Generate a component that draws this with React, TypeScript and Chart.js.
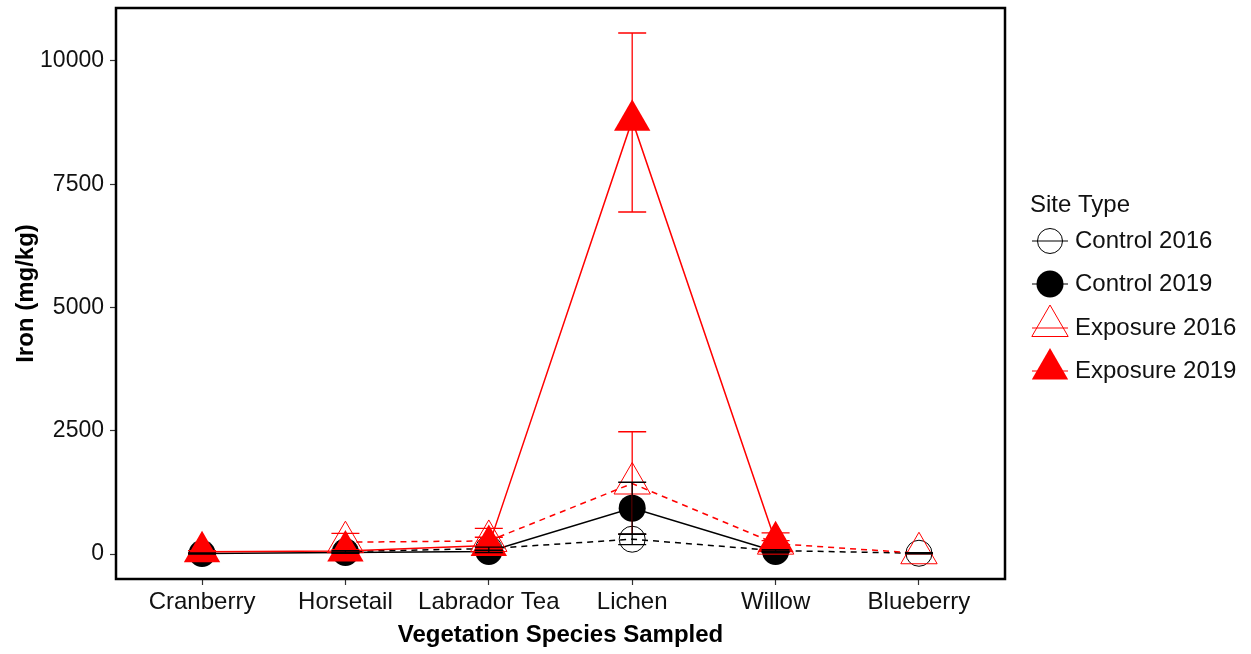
import React, { useEffect, useRef } from 'react';
import { Chart, registerables } from 'chart.js';

Chart.register(...registerables);

const FONT = '"Liberation Sans", Arial, Helvetica, sans-serif';

const categories = ['Cranberry', 'Horsetail', 'Labrador Tea', 'Lichen', 'Willow', 'Blueberry'];
const yTicks = [0, 2500, 5000, 7500, 10000];
const seriesLabels = ['Control 2016', 'Control 2019', 'Exposure 2016', 'Exposure 2019'];

const control2016 = [null, 50, 110, 300, 70, 15];
const control2016Low = [null, 30, 80, 190, 50, 5];
const control2016High = [null, 70, 140, 410, 90, 25];

const control2019 = [10, 30, 50, 930, 50, null];
const control2019Low = [0, 15, 30, 400, 35, null];
const control2019High = [20, 45, 70, 1455, 65, null];

const exposure2016 = [null, 240, 265, 1430, 210, 15];
const exposure2016Low = [null, 60, 10, 400, 150, 5];
const exposure2016High = [null, 420, 520, 2480, 270, 25];

const exposure2019 = [45, 60, 170, 8800, 250, null];
const exposure2019Low = [20, 30, 0, 6937, 80, null];
const exposure2019High = [70, 90, 340, 10568, 430, null];

const toPoints = (vals: (number | null)[]) => vals.map((v, i) => ({ x: i, y: v }));

const seriesStyle = [
  { color: '#000000', dash: [6, 5], shape: 'circle', filled: false, radius: 13 },
  { color: '#000000', dash: [], shape: 'circle', filled: true, radius: 13.5 },
  { color: '#ff0000', dash: [6, 5], shape: 'triangle', filled: false, radius: 21 },
  { color: '#ff0000', dash: [], shape: 'triangle', filled: true, radius: 21 },
];

const seriesValues = [control2016, control2019, exposure2016, exposure2019];
const seriesLow = [control2016Low, control2019Low, exposure2016Low, exposure2019Low];
const seriesHigh = [control2016High, control2019High, exposure2016High, exposure2019High];

function drawMarker(ctx: CanvasRenderingContext2D, shape: string, x: number, y: number, r: number, color: string, filled: boolean) {
  ctx.save();
  ctx.beginPath();
  if (shape === 'circle') {
    ctx.arc(x, y, r, 0, Math.PI * 2);
  } else {
    let rad = 0;
    const t = (2 * Math.PI) / 3;
    ctx.moveTo(x + Math.sin(rad) * r, y - Math.cos(rad) * r);
    rad += t;
    ctx.lineTo(x + Math.sin(rad) * r, y - Math.cos(rad) * r);
    rad += t;
    ctx.lineTo(x + Math.sin(rad) * r, y - Math.cos(rad) * r);
    ctx.closePath();
  }
  if (filled) {
    ctx.fillStyle = color;
    ctx.fill();
  } else {
    ctx.strokeStyle = color;
    ctx.lineWidth = 1;
    ctx.stroke();
  }
  ctx.restore();
}

const errorBarPlugin = {
  id: 'errorBars',
  afterDatasetsDraw(chart: any) {
    const ctx = chart.ctx;
    const xs = chart.scales.x;
    const ys = chart.scales.y;
    ctx.save();
    for (let s = seriesValues.length - 1; s >= 0; s--) {
      const color = seriesStyle[s].color;
      ctx.strokeStyle = color;
      ctx.lineWidth = 1.3;
      for (let i = 0; i < categories.length; i++) {
        const lo = seriesLow[s][i];
        const hi = seriesHigh[s][i];
        if (lo === null || hi === null || lo === undefined || hi === undefined) continue;
        const px = xs.getPixelForValue(i);
        const pLo = ys.getPixelForValue(lo);
        const pHi = ys.getPixelForValue(hi);
        ctx.beginPath();
        ctx.moveTo(px, pLo);
        ctx.lineTo(px, pHi);
        ctx.moveTo(px - 14, pLo);
        ctx.lineTo(px + 14, pLo);
        ctx.moveTo(px - 14, pHi);
        ctx.lineTo(px + 14, pHi);
        ctx.stroke();
      }
    }
    ctx.restore();
  },
};

const frameLegendPlugin = {
  id: 'frameLegend',
  afterDraw(chart: any) {
    const ctx = chart.ctx;
    const a = chart.chartArea;
    ctx.save();
    ctx.strokeStyle = '#000';
    ctx.lineWidth = 2.5;
    ctx.strokeRect(a.left, a.top, a.right - a.left, a.bottom - a.top);

    // legend
    const lx = a.right + 25;
    ctx.fillStyle = '#111';
    ctx.font = `24px ${FONT}`;
    ctx.textBaseline = 'middle';
    ctx.textAlign = 'left';
    ctx.fillText('Site Type', lx, 205);
    const rowY = [241, 284, 328, 371];
    seriesLabels.forEach((label, k) => {
      const st = seriesStyle[k];
      const cy = rowY[k];
      const cx = lx + 20;
      ctx.strokeStyle = st.color;
      ctx.lineWidth = 1.2;
      ctx.beginPath();
      ctx.moveTo(cx - 18, cy);
      ctx.lineTo(cx + 18, cy);
      ctx.stroke();
      const my = st.shape === 'triangle' ? cy - 2 : cy;
      drawMarker(ctx, st.shape, cx, my, st.shape === 'triangle' ? 21 : (st.filled ? 13.5 : 12.5), st.color, st.filled);
      ctx.fillStyle = '#111';
      ctx.fillText(label, lx + 45, cy);
    });
    ctx.restore();
  },
};

export default function App() {
  const ref = useRef<HTMLCanvasElement>(null);

  useEffect(() => {
    document.body.style.margin = '0';
    const canvas = ref.current!;
    const datasets = seriesLabels.map((label, k) => {
      const st = seriesStyle[k];
      return {
        label,
        data: toPoints(seriesValues[k]),
        borderColor: st.color,
        borderWidth: 1.5,
        borderDash: st.dash,
        pointStyle: st.shape,
        pointRadius: st.radius,
        pointHoverRadius: st.radius,
        pointBackgroundColor: st.filled ? st.color : 'rgba(0,0,0,0)',
        pointBorderColor: st.color,
        pointBorderWidth: st.filled ? 0 : 1,
        showLine: true,
        spanGaps: false,
        fill: false,
        tension: 0,
        order: 3 - k,
      };
    });

    const chart = new Chart(canvas, {
      type: 'scatter',
      data: { datasets } as any,
      options: {
        animation: false,
        responsive: false,
        maintainAspectRatio: false,
        layout: { autoPadding: false, padding: { left: 0, right: 246, top: 8, bottom: 0 } },
        plugins: {
          legend: { display: false },
          tooltip: { enabled: false },
        },
        scales: {
          x: {
            type: 'linear',
            min: -0.6,
            max: 5.6,
            afterBuildTicks: (s: any) => {
              s.ticks = categories.map((_, i) => ({ value: i }));
            },
            ticks: {
              callback: (v: any) => categories[v] ?? '',
              font: { family: FONT, size: 24 },
              color: '#111',
              padding: 3,
              autoSkip: false,
              maxRotation: 0,
              minRotation: 0,
            },
            grid: { drawOnChartArea: false, tickLength: 6, tickColor: '#333', tickWidth: 1.2 },
            border: { display: false },
            title: {
              display: true,
              text: 'Vegetation Species Sampled',
              font: { family: FONT, size: 24, weight: 'bold' },
              color: '#000',
              padding: { top: 4, bottom: 4 },
            },
            afterFit: (s: any) => {
              s.height = 75;
              s.paddingLeft = 0;
              s.paddingRight = 0;
            },
          },
          y: {
            type: 'linear',
            min: -507,
            max: 11075,
            afterBuildTicks: (s: any) => {
              s.ticks = yTicks.map((v) => ({ value: v }));
            },
            ticks: {
              callback: (v: any) => String(v),
              font: { family: FONT, size: 23 },
              color: '#111',
              padding: 6,
            },
            grid: { drawOnChartArea: false, tickLength: 6, tickColor: '#333', tickWidth: 1.2 },
            border: { display: false },
            title: {
              display: true,
              text: 'Iron (mg/kg)',
              font: { family: FONT, size: 24, weight: 'bold' },
              color: '#000',
              padding: { top: 12, bottom: 4 },
            },
            afterFit: (s: any) => {
              s.width = 116;
              s.paddingTop = 0;
              s.paddingBottom = 0;
            },
          },
        },
      } as any,
      plugins: [errorBarPlugin, frameLegendPlugin],
    });
    return () => chart.destroy();
  }, []);

  return (
    <div style={{ width: 1251, height: 654, background: '#fff' }}>
      <canvas ref={ref} width={1251} height={654} style={{ display: 'block', width: 1251, height: 654 }} />
    </div>
  );
}
